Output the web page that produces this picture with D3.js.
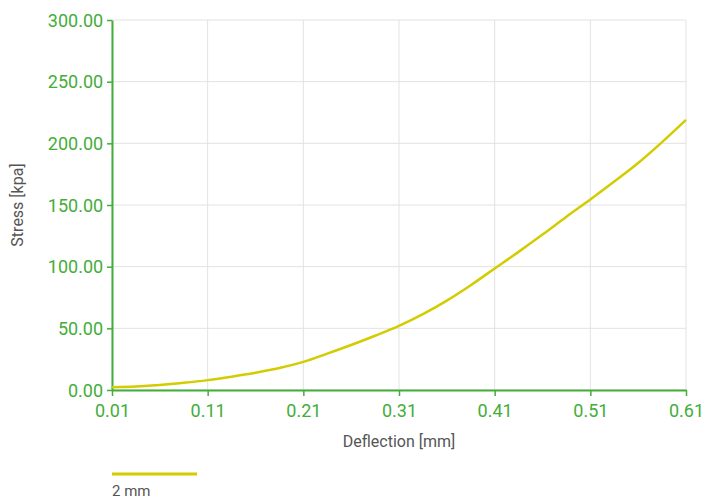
<!DOCTYPE html>
<html><head><meta charset="utf-8">
<script src="https://cdn.jsdelivr.net/npm/d3@7"></script>
<style>body{margin:0;background:#fff;font-family:Roboto,sans-serif}</style>
</head><body><svg id="c" width="706" height="500"></svg>
<script>
const deflection = [0.01,0.035,0.06,0.085,0.11,0.135,0.16,0.185,0.21,0.235,0.26,0.285,0.31,0.335,0.36,0.385,0.41,0.435,0.46,0.485,0.51,0.535,0.56,0.585,0.61];
const stress = [2.2,2.8,4.0,5.8,8.0,10.8,14.0,17.8,22.8,29.5,36.5,44,52,61.5,72.5,85,98.5,112,126,140.5,154.5,169,184,201,219];
const xTicks = [0.01,0.11,0.21,0.31,0.41,0.51,0.61];
const yTicks = [0,50,100,150,200,250,300];
const seriesName = "2 mm";

const svg = d3.select("#c");
const m = {l:112, r:20, t:20, b:110};
const W = 706, H = 500;
const x = d3.scaleLinear().domain([0.01,0.61]).range([m.l, W-m.r]);
const y = d3.scaleLinear().domain([0,300]).range([H-m.b, m.t]);
const green = "#43ad3a";

// grid
svg.append("g").selectAll("line").data(yTicks).join("line")
  .attr("x1",m.l).attr("x2",W-m.r).attr("y1",d=>y(d)).attr("y2",d=>y(d))
  .attr("stroke","#e2e2e2").attr("stroke-width",1);
svg.append("g").selectAll("line").data(xTicks).join("line")
  .attr("y1",m.t).attr("y2",H-m.b).attr("x1",d=>x(d)).attr("x2",d=>x(d))
  .attr("stroke","#e2e2e2").attr("stroke-width",1);

// axes
const xa = svg.append("g").attr("transform",`translate(0,${H-m.b})`)
  .call(d3.axisBottom(x).tickValues(xTicks).tickFormat(d3.format(".2f")).tickSize(6).tickSizeOuter(0));
const ya = svg.append("g").attr("transform",`translate(${m.l},0)`)
  .call(d3.axisLeft(y).tickValues(yTicks).tickFormat(d3.format(".2f")).tickSize(5).tickSizeOuter(0));
[xa,ya].forEach(a=>{
  a.selectAll("path").attr("stroke",green).attr("stroke-width",2);
  a.selectAll("line").attr("stroke",green).attr("stroke-width",1.5);
  a.selectAll("text").attr("fill",green).style("font-size","18px").style("font-family","Roboto,sans-serif");
});
xa.selectAll("text").attr("dy","1.0em");
ya.selectAll("text").attr("dx","-0.05em").attr("dy","0.35em");

// line
svg.append("path").datum(d3.zip(deflection,stress))
  .attr("fill","none").attr("stroke","#d2cc00").attr("stroke-width",2.5)
  .attr("d", d3.line().x(d=>x(d[0])).y(d=>y(d[1])).curve(d3.curveMonotoneX));

// titles
svg.append("text").attr("x",(m.l+W-m.r)/2).attr("y",447).attr("text-anchor","middle")
  .attr("fill","#555").style("font-size","16px").text("Deflection [mm]");
svg.append("text").attr("transform",`translate(23,${(m.t+H-m.b)/2}) rotate(-90)`).attr("text-anchor","middle")
  .attr("fill","#555").style("font-size","16px").text("Stress [kpa]");

// legend
svg.append("line").attr("x1",112).attr("x2",197).attr("y1",474).attr("y2",474)
  .attr("stroke","#d2cc00").attr("stroke-width",3);
svg.append("text").attr("x",112).attr("y",496).attr("fill","#555").style("font-size","15px").text(seriesName);
</script></body></html>
